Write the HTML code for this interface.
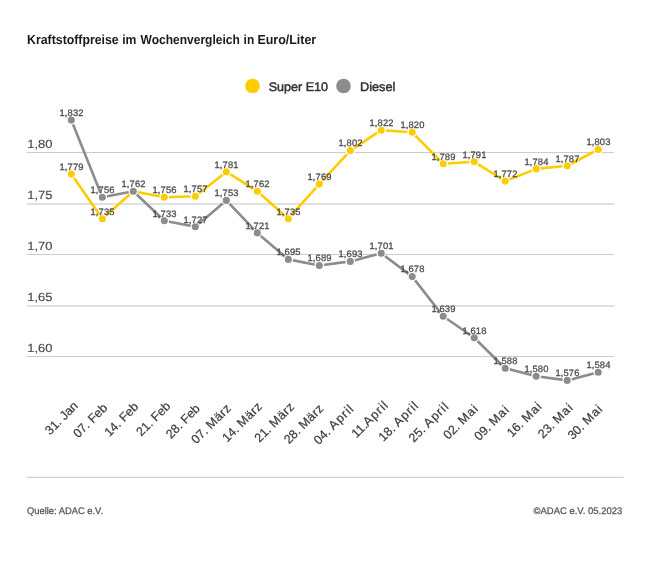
<!DOCTYPE html><html><head><meta charset="utf-8"><title>Kraftstoffpreise</title><style>
html,body{margin:0;padding:0;background:#fff;}body{width:650px;height:570px;overflow:hidden;font-family:"Liberation Sans",sans-serif;}svg{display:block;filter:blur(0.35px);font-family:"Liberation Sans",sans-serif;}
</style></head><body>
<svg width="650" height="570" viewBox="0 0 650 570" text-rendering="geometricPrecision">
<rect width="650" height="570" fill="#ffffff"/>
<text x="27.1" y="44.1" font-size="13.2" font-weight="bold" fill="#1a1a1a" textLength="91.6" lengthAdjust="spacingAndGlyphs">Kraftstoffpreise</text>
<text x="122.2" y="44.1" font-size="13.2" font-weight="bold" fill="#1a1a1a" textLength="14.2" lengthAdjust="spacingAndGlyphs">im</text>
<text x="140.5" y="44.1" font-size="13.2" font-weight="bold" fill="#1a1a1a" textLength="99.3" lengthAdjust="spacingAndGlyphs">Wochenvergleich</text>
<text x="243.6" y="44.1" font-size="13.2" font-weight="bold" fill="#1a1a1a" textLength="10.6" lengthAdjust="spacingAndGlyphs">in</text>
<text x="257.4" y="44.1" font-size="13.2" font-weight="bold" fill="#1a1a1a" textLength="58.8" lengthAdjust="spacingAndGlyphs">Euro/Liter</text>
<circle cx="252.5" cy="86" r="7.3" fill="#ffcc00"/>
<text x="268.7" y="90.8" font-size="12.5" fill="#303030" stroke="#303030" stroke-width="0.45" textLength="59.3" lengthAdjust="spacingAndGlyphs">Super E10</text>
<circle cx="343.5" cy="86" r="7.3" fill="#8c8c8c"/>
<text x="360" y="90.8" font-size="12.5" fill="#303030" stroke="#303030" stroke-width="0.45" textLength="35.3" lengthAdjust="spacingAndGlyphs">Diesel</text>
<line x1="26.8" x2="614.2" y1="152.4" y2="152.4" stroke="#cccccc" stroke-width="1.05"/>
<text x="27.2" y="148.2" font-size="11.8" fill="#484848" stroke="#484848" stroke-width="0.15" textLength="25.2" lengthAdjust="spacingAndGlyphs">1,80</text>
<line x1="26.8" x2="614.2" y1="204.0" y2="204.0" stroke="#c2c2c2" stroke-width="1.15"/>
<text x="27.2" y="199.2" font-size="11.8" fill="#484848" stroke="#484848" stroke-width="0.15" textLength="25.2" lengthAdjust="spacingAndGlyphs">1,75</text>
<line x1="26.8" x2="614.2" y1="254.5" y2="254.5" stroke="#cccccc" stroke-width="1.05"/>
<text x="27.2" y="250.3" font-size="11.8" fill="#484848" stroke="#484848" stroke-width="0.15" textLength="25.2" lengthAdjust="spacingAndGlyphs">1,70</text>
<line x1="26.8" x2="614.2" y1="306.0" y2="306.0" stroke="#c2c2c2" stroke-width="1.15"/>
<text x="27.2" y="301.3" font-size="11.8" fill="#484848" stroke="#484848" stroke-width="0.15" textLength="25.2" lengthAdjust="spacingAndGlyphs">1,65</text>
<line x1="26.8" x2="614.2" y1="356.4" y2="356.4" stroke="#cccccc" stroke-width="1.05"/>
<text x="27.2" y="352.4" font-size="11.8" fill="#484848" stroke="#484848" stroke-width="0.15" textLength="25.2" lengthAdjust="spacingAndGlyphs">1,60</text>
<line x1="27" x2="623.7" y1="477.4" y2="477.4" stroke="#cfcfcf" stroke-width="1.3"/>
<polyline points="71.3,174.0 102.3,218.7 133.3,191.2 164.3,197.3 195.3,196.3 226.3,171.9 257.3,191.2 288.3,218.7 319.3,184.1 350.3,150.6 381.2,130.2 412.2,132.3 443.2,163.8 474.2,161.8 505.2,181.1 536.2,168.9 567.2,165.8 598.2,149.5" fill="none" stroke="#ffcc00" stroke-width="2.6" stroke-linejoin="round" stroke-linecap="round"/>
<circle cx="71.3" cy="174.0" r="4.2" fill="#ffcc00" stroke="#ffffff" stroke-width="1.3"/>
<circle cx="102.3" cy="218.7" r="4.2" fill="#ffcc00" stroke="#ffffff" stroke-width="1.3"/>
<circle cx="133.3" cy="191.2" r="4.2" fill="#ffcc00" stroke="#ffffff" stroke-width="1.3"/>
<circle cx="164.3" cy="197.3" r="4.2" fill="#ffcc00" stroke="#ffffff" stroke-width="1.3"/>
<circle cx="195.3" cy="196.3" r="4.2" fill="#ffcc00" stroke="#ffffff" stroke-width="1.3"/>
<circle cx="226.3" cy="171.9" r="4.2" fill="#ffcc00" stroke="#ffffff" stroke-width="1.3"/>
<circle cx="257.3" cy="191.2" r="4.2" fill="#ffcc00" stroke="#ffffff" stroke-width="1.3"/>
<circle cx="288.3" cy="218.7" r="4.2" fill="#ffcc00" stroke="#ffffff" stroke-width="1.3"/>
<circle cx="319.3" cy="184.1" r="4.2" fill="#ffcc00" stroke="#ffffff" stroke-width="1.3"/>
<circle cx="350.3" cy="150.6" r="4.2" fill="#ffcc00" stroke="#ffffff" stroke-width="1.3"/>
<circle cx="381.2" cy="130.2" r="4.2" fill="#ffcc00" stroke="#ffffff" stroke-width="1.3"/>
<circle cx="412.2" cy="132.3" r="4.2" fill="#ffcc00" stroke="#ffffff" stroke-width="1.3"/>
<circle cx="443.2" cy="163.8" r="4.2" fill="#ffcc00" stroke="#ffffff" stroke-width="1.3"/>
<circle cx="474.2" cy="161.8" r="4.2" fill="#ffcc00" stroke="#ffffff" stroke-width="1.3"/>
<circle cx="505.2" cy="181.1" r="4.2" fill="#ffcc00" stroke="#ffffff" stroke-width="1.3"/>
<circle cx="536.2" cy="168.9" r="4.2" fill="#ffcc00" stroke="#ffffff" stroke-width="1.3"/>
<circle cx="567.2" cy="165.8" r="4.2" fill="#ffcc00" stroke="#ffffff" stroke-width="1.3"/>
<circle cx="598.2" cy="149.5" r="4.2" fill="#ffcc00" stroke="#ffffff" stroke-width="1.3"/>
<polyline points="71.3,120.1 102.3,197.3 133.3,191.2 164.3,220.7 195.3,226.8 226.3,200.4 257.3,232.9 288.3,259.4 319.3,265.5 350.3,261.4 381.2,253.3 412.2,276.6 443.2,316.3 474.2,337.7 505.2,368.2 536.2,376.3 567.2,380.4 598.2,372.2" fill="none" stroke="#8c8c8c" stroke-width="2.6" stroke-linejoin="round" stroke-linecap="round"/>
<circle cx="71.3" cy="120.1" r="4.2" fill="#8c8c8c" stroke="#ffffff" stroke-width="1.3"/>
<circle cx="102.3" cy="197.3" r="4.2" fill="#8c8c8c" stroke="#ffffff" stroke-width="1.3"/>
<circle cx="133.3" cy="191.2" r="4.2" fill="#8c8c8c" stroke="#ffffff" stroke-width="1.3"/>
<circle cx="164.3" cy="220.7" r="4.2" fill="#8c8c8c" stroke="#ffffff" stroke-width="1.3"/>
<circle cx="195.3" cy="226.8" r="4.2" fill="#8c8c8c" stroke="#ffffff" stroke-width="1.3"/>
<circle cx="226.3" cy="200.4" r="4.2" fill="#8c8c8c" stroke="#ffffff" stroke-width="1.3"/>
<circle cx="257.3" cy="232.9" r="4.2" fill="#8c8c8c" stroke="#ffffff" stroke-width="1.3"/>
<circle cx="288.3" cy="259.4" r="4.2" fill="#8c8c8c" stroke="#ffffff" stroke-width="1.3"/>
<circle cx="319.3" cy="265.5" r="4.2" fill="#8c8c8c" stroke="#ffffff" stroke-width="1.3"/>
<circle cx="350.3" cy="261.4" r="4.2" fill="#8c8c8c" stroke="#ffffff" stroke-width="1.3"/>
<circle cx="381.2" cy="253.3" r="4.2" fill="#8c8c8c" stroke="#ffffff" stroke-width="1.3"/>
<circle cx="412.2" cy="276.6" r="4.2" fill="#8c8c8c" stroke="#ffffff" stroke-width="1.3"/>
<circle cx="443.2" cy="316.3" r="4.2" fill="#8c8c8c" stroke="#ffffff" stroke-width="1.3"/>
<circle cx="474.2" cy="337.7" r="4.2" fill="#8c8c8c" stroke="#ffffff" stroke-width="1.3"/>
<circle cx="505.2" cy="368.2" r="4.2" fill="#8c8c8c" stroke="#ffffff" stroke-width="1.3"/>
<circle cx="536.2" cy="376.3" r="4.2" fill="#8c8c8c" stroke="#ffffff" stroke-width="1.3"/>
<circle cx="567.2" cy="380.4" r="4.2" fill="#8c8c8c" stroke="#ffffff" stroke-width="1.3"/>
<circle cx="598.2" cy="372.2" r="4.2" fill="#8c8c8c" stroke="#ffffff" stroke-width="1.3"/>
<text x="71.6" y="169.8" font-size="9.4" letter-spacing="0.15" text-anchor="middle" fill="#4a4a4a" stroke="#4a4a4a" stroke-width="0.28">1,779</text>
<text x="102.6" y="214.5" font-size="9.4" letter-spacing="0.15" text-anchor="middle" fill="#4a4a4a" stroke="#4a4a4a" stroke-width="0.28">1,735</text>
<text x="164.6" y="193.1" font-size="9.4" letter-spacing="0.15" text-anchor="middle" fill="#4a4a4a" stroke="#4a4a4a" stroke-width="0.28">1,756</text>
<text x="195.6" y="192.1" font-size="9.4" letter-spacing="0.15" text-anchor="middle" fill="#4a4a4a" stroke="#4a4a4a" stroke-width="0.28">1,757</text>
<text x="226.6" y="167.7" font-size="9.4" letter-spacing="0.15" text-anchor="middle" fill="#4a4a4a" stroke="#4a4a4a" stroke-width="0.28">1,781</text>
<text x="257.6" y="187.0" font-size="9.4" letter-spacing="0.15" text-anchor="middle" fill="#4a4a4a" stroke="#4a4a4a" stroke-width="0.28">1,762</text>
<text x="288.6" y="214.5" font-size="9.4" letter-spacing="0.15" text-anchor="middle" fill="#4a4a4a" stroke="#4a4a4a" stroke-width="0.28">1,735</text>
<text x="319.6" y="179.9" font-size="9.4" letter-spacing="0.15" text-anchor="middle" fill="#4a4a4a" stroke="#4a4a4a" stroke-width="0.28">1,769</text>
<text x="350.6" y="146.4" font-size="9.4" letter-spacing="0.15" text-anchor="middle" fill="#4a4a4a" stroke="#4a4a4a" stroke-width="0.28">1,802</text>
<text x="381.6" y="126.0" font-size="9.4" letter-spacing="0.15" text-anchor="middle" fill="#4a4a4a" stroke="#4a4a4a" stroke-width="0.28">1,822</text>
<text x="412.5" y="128.1" font-size="9.4" letter-spacing="0.15" text-anchor="middle" fill="#4a4a4a" stroke="#4a4a4a" stroke-width="0.28">1,820</text>
<text x="443.5" y="159.6" font-size="9.4" letter-spacing="0.15" text-anchor="middle" fill="#4a4a4a" stroke="#4a4a4a" stroke-width="0.28">1,789</text>
<text x="474.5" y="157.6" font-size="9.4" letter-spacing="0.15" text-anchor="middle" fill="#4a4a4a" stroke="#4a4a4a" stroke-width="0.28">1,791</text>
<text x="505.5" y="176.9" font-size="9.4" letter-spacing="0.15" text-anchor="middle" fill="#4a4a4a" stroke="#4a4a4a" stroke-width="0.28">1,772</text>
<text x="536.5" y="164.7" font-size="9.4" letter-spacing="0.15" text-anchor="middle" fill="#4a4a4a" stroke="#4a4a4a" stroke-width="0.28">1,784</text>
<text x="567.5" y="161.6" font-size="9.4" letter-spacing="0.15" text-anchor="middle" fill="#4a4a4a" stroke="#4a4a4a" stroke-width="0.28">1,787</text>
<text x="598.5" y="145.3" font-size="9.4" letter-spacing="0.15" text-anchor="middle" fill="#4a4a4a" stroke="#4a4a4a" stroke-width="0.28">1,803</text>
<text x="71.6" y="115.9" font-size="9.4" letter-spacing="0.15" text-anchor="middle" fill="#4a4a4a" stroke="#4a4a4a" stroke-width="0.28">1,832</text>
<text x="102.6" y="193.1" font-size="9.4" letter-spacing="0.15" text-anchor="middle" fill="#4a4a4a" stroke="#4a4a4a" stroke-width="0.28">1,756</text>
<text x="133.6" y="187.0" font-size="9.4" letter-spacing="0.15" text-anchor="middle" fill="#4a4a4a" stroke="#4a4a4a" stroke-width="0.28">1,762</text>
<text x="164.6" y="216.5" font-size="9.4" letter-spacing="0.15" text-anchor="middle" fill="#4a4a4a" stroke="#4a4a4a" stroke-width="0.28">1,733</text>
<text x="195.6" y="222.6" font-size="9.4" letter-spacing="0.15" text-anchor="middle" fill="#4a4a4a" stroke="#4a4a4a" stroke-width="0.28">1,727</text>
<text x="226.6" y="196.2" font-size="9.4" letter-spacing="0.15" text-anchor="middle" fill="#4a4a4a" stroke="#4a4a4a" stroke-width="0.28">1,753</text>
<text x="257.6" y="228.7" font-size="9.4" letter-spacing="0.15" text-anchor="middle" fill="#4a4a4a" stroke="#4a4a4a" stroke-width="0.28">1,721</text>
<text x="288.6" y="255.2" font-size="9.4" letter-spacing="0.15" text-anchor="middle" fill="#4a4a4a" stroke="#4a4a4a" stroke-width="0.28">1,695</text>
<text x="319.6" y="261.3" font-size="9.4" letter-spacing="0.15" text-anchor="middle" fill="#4a4a4a" stroke="#4a4a4a" stroke-width="0.28">1,689</text>
<text x="350.6" y="257.2" font-size="9.4" letter-spacing="0.15" text-anchor="middle" fill="#4a4a4a" stroke="#4a4a4a" stroke-width="0.28">1,693</text>
<text x="381.6" y="249.1" font-size="9.4" letter-spacing="0.15" text-anchor="middle" fill="#4a4a4a" stroke="#4a4a4a" stroke-width="0.28">1,701</text>
<text x="412.5" y="272.4" font-size="9.4" letter-spacing="0.15" text-anchor="middle" fill="#4a4a4a" stroke="#4a4a4a" stroke-width="0.28">1,678</text>
<text x="443.5" y="312.1" font-size="9.4" letter-spacing="0.15" text-anchor="middle" fill="#4a4a4a" stroke="#4a4a4a" stroke-width="0.28">1,639</text>
<text x="474.5" y="333.5" font-size="9.4" letter-spacing="0.15" text-anchor="middle" fill="#4a4a4a" stroke="#4a4a4a" stroke-width="0.28">1,618</text>
<text x="505.5" y="364.0" font-size="9.4" letter-spacing="0.15" text-anchor="middle" fill="#4a4a4a" stroke="#4a4a4a" stroke-width="0.28">1,588</text>
<text x="536.5" y="372.1" font-size="9.4" letter-spacing="0.15" text-anchor="middle" fill="#4a4a4a" stroke="#4a4a4a" stroke-width="0.28">1,580</text>
<text x="567.5" y="376.2" font-size="9.4" letter-spacing="0.15" text-anchor="middle" fill="#4a4a4a" stroke="#4a4a4a" stroke-width="0.28">1,576</text>
<text x="598.5" y="368.0" font-size="9.4" letter-spacing="0.15" text-anchor="middle" fill="#4a4a4a" stroke="#4a4a4a" stroke-width="0.28">1,584</text>
<text transform="translate(78.6,406.8) rotate(-45)" text-anchor="end" font-size="12.5" fill="#3c3c3c" stroke="#3c3c3c" stroke-width="0.2" xml:space="preserve">31. <tspan letter-spacing="-0.2">Jan</tspan></text>
<text transform="translate(108.0,408.7) rotate(-45)" text-anchor="end" font-size="12.5" fill="#3c3c3c" stroke="#3c3c3c" stroke-width="0.2" xml:space="preserve">07. <tspan letter-spacing="-0.09">Feb</tspan></text>
<text transform="translate(139.2,407.5) rotate(-45)" text-anchor="end" font-size="12.5" fill="#3c3c3c" stroke="#3c3c3c" stroke-width="0.2" xml:space="preserve">14. <tspan letter-spacing="-0.09">Feb</tspan></text>
<text transform="translate(171.1,407.0) rotate(-45)" text-anchor="end" font-size="12.5" fill="#3c3c3c" stroke="#3c3c3c" stroke-width="0.2" xml:space="preserve">21. <tspan letter-spacing="-0.09">Feb</tspan></text>
<text transform="translate(200.7,409.4) rotate(-45)" text-anchor="end" font-size="12.5" fill="#3c3c3c" stroke="#3c3c3c" stroke-width="0.2" xml:space="preserve">28. <tspan letter-spacing="-0.09">Feb</tspan></text>
<text transform="translate(232.0,408.8) rotate(-45)" text-anchor="end" font-size="12.5" fill="#3c3c3c" stroke="#3c3c3c" stroke-width="0.2" xml:space="preserve">07. <tspan letter-spacing="0.45">März</tspan></text>
<text transform="translate(263.0,407.1) rotate(-45)" text-anchor="end" font-size="12.5" fill="#3c3c3c" stroke="#3c3c3c" stroke-width="0.2" xml:space="preserve">14. <tspan letter-spacing="0.45">März</tspan></text>
<text transform="translate(295.2,407.3) rotate(-45)" text-anchor="end" font-size="12.5" fill="#3c3c3c" stroke="#3c3c3c" stroke-width="0.2" xml:space="preserve">21. <tspan letter-spacing="0.45">März</tspan></text>
<text transform="translate(324.6,408.9) rotate(-45)" text-anchor="end" font-size="12.5" fill="#3c3c3c" stroke="#3c3c3c" stroke-width="0.2" xml:space="preserve">28. <tspan letter-spacing="0.45">März</tspan></text>
<text transform="translate(354.9,409.2) rotate(-45)" text-anchor="end" font-size="12.5" fill="#3c3c3c" stroke="#3c3c3c" stroke-width="0.2" xml:space="preserve">04. <tspan letter-spacing="1.02">April</tspan></text>
<text transform="translate(389.4,405.5) rotate(-45)" text-anchor="end" font-size="12.5" fill="#3c3c3c" stroke="#3c3c3c" stroke-width="0.2" xml:space="preserve">11.<tspan letter-spacing="1.02">April</tspan></text>
<text transform="translate(419.6,406.0) rotate(-45)" text-anchor="end" font-size="12.5" fill="#3c3c3c" stroke="#3c3c3c" stroke-width="0.2" xml:space="preserve">18. <tspan letter-spacing="1.02">April</tspan></text>
<text transform="translate(449.9,406.9) rotate(-45)" text-anchor="end" font-size="12.5" fill="#3c3c3c" stroke="#3c3c3c" stroke-width="0.2" xml:space="preserve">25. <tspan letter-spacing="1.02">April</tspan></text>
<text transform="translate(479.4,409.0) rotate(-45)" text-anchor="end" font-size="12.5" fill="#3c3c3c" stroke="#3c3c3c" stroke-width="0.2" xml:space="preserve">02. <tspan letter-spacing="1.0">Mai</tspan></text>
<text transform="translate(510.4,410.1) rotate(-45)" text-anchor="end" font-size="12.5" fill="#3c3c3c" stroke="#3c3c3c" stroke-width="0.2" xml:space="preserve">09. <tspan letter-spacing="1.0">Mai</tspan></text>
<text transform="translate(543.0,406.6) rotate(-45)" text-anchor="end" font-size="12.5" fill="#3c3c3c" stroke="#3c3c3c" stroke-width="0.2" xml:space="preserve">16. <tspan letter-spacing="1.0">Mai</tspan></text>
<text transform="translate(574.1,407.9) rotate(-45)" text-anchor="end" font-size="12.5" fill="#3c3c3c" stroke="#3c3c3c" stroke-width="0.2" xml:space="preserve">23. <tspan letter-spacing="1.0">Mai</tspan></text>
<text transform="translate(603.8,409.2) rotate(-45)" text-anchor="end" font-size="12.5" fill="#3c3c3c" stroke="#3c3c3c" stroke-width="0.2" xml:space="preserve">30. <tspan letter-spacing="1.0">Mai</tspan></text>
<text x="27" y="513.9" font-size="9.6" fill="#555555" stroke="#555555" stroke-width="0.25" textLength="76" lengthAdjust="spacingAndGlyphs">Quelle: ADAC e.V.</text>
<text x="533.5" y="513.9" font-size="9.6" fill="#555555" stroke="#555555" stroke-width="0.25" textLength="88.8" lengthAdjust="spacingAndGlyphs">©ADAC e.V. 05.2023</text>
</svg></body></html>
